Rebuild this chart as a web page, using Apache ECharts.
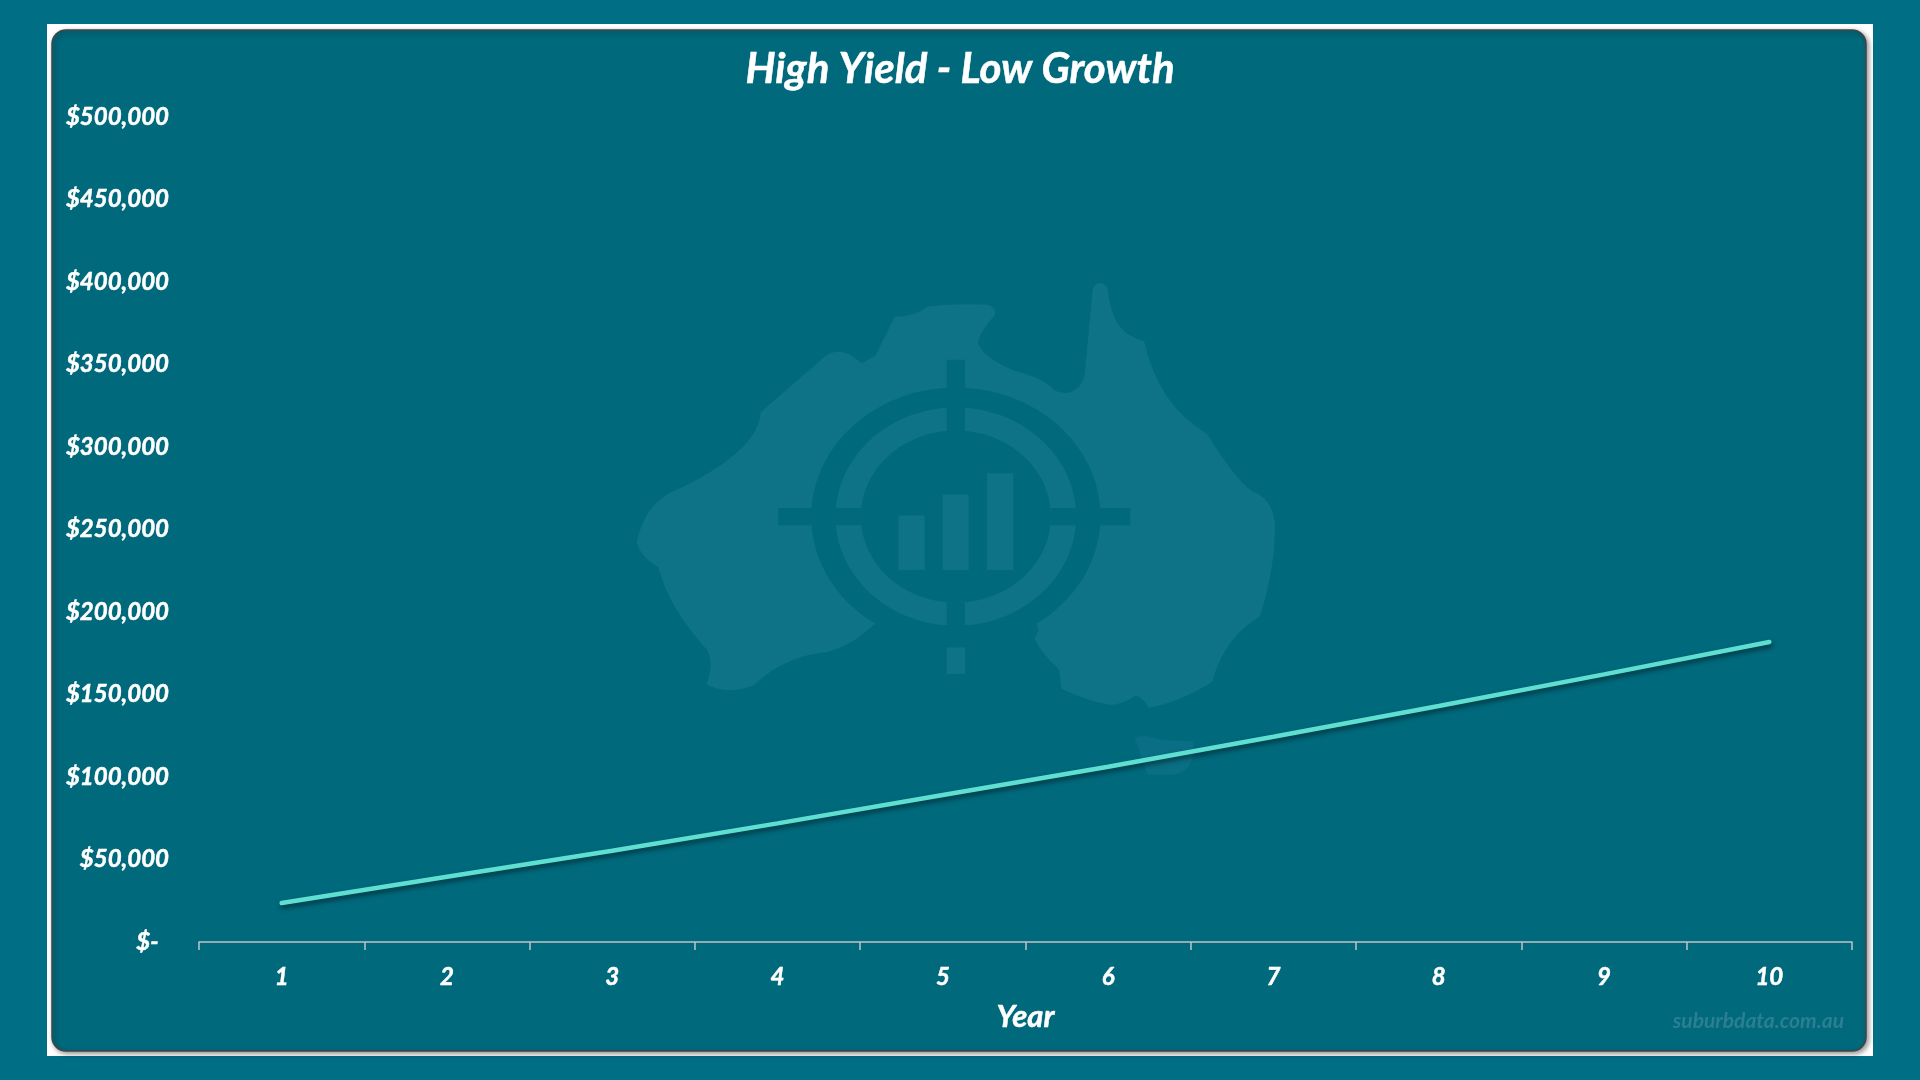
<!DOCTYPE html>
<html><head><meta charset="utf-8">
<style>html,body{margin:0;padding:0;background:#006e84}#c{width:1920px;height:1080px}</style>
<script src="https://cdn.jsdelivr.net/npm/echarts@6/dist/echarts.min.js"></script>
</head><body><div id="c"></div>
<script>
const years = ['1','2','3','4','5','6','7','8','9','10'];
const values = [23600,39600,55300,71900,89100,106200,124400,143000,162200,181800];
const titleText = 'High Yield - Low Growth';
const axisTitle = 'Year';
const watermark = 'suburbdata.com.au';

const OUTER='#006e84', PANEL='#00697c', LOGO='#0f7388', TAS='#0a6f84';
echarts.graphic.registerShape('australia', echarts.graphic.extendPath(
 'M350 442L490 280Q515 255 545 275L570 300L600 278L642 165Q685 165 715 135Q780 125 845 130Q865 140 860 160Q830 205 823 238Q830 280 900 320Q970 345 990 378Q1020 400 1045 365Q1055 345 1056 330L1073 85Q1085 52 1105 80Q1110 150 1130 190Q1150 225 1185 235Q1215 420 1322 505Q1380 630 1420 672Q1465 690 1470 770Q1470 900 1437 1035Q1360 1095 1333 1225Q1260 1285 1195 1300Q1180 1265 1165 1265Q1140 1290 1110 1292Q1060 1280 1005 1245L1000 1190Q960 1140 947 1100L955 1075L952 1058L597 1058Q550 1120 495 1138Q400 1150 335 1235Q280 1265 232 1232Q250 1170 232 1130Q150 1010 127 892Q90 865 80 820Q95 720 150 678Q345 560 350 442Z', {}));
echarts.graphic.registerShape('tasmania', echarts.graphic.extendPath(
 'M1165 1387L1185 1380Q1220 1398 1293 1397L1290 1450Q1280 1490 1245 1495L1192 1495Z', {}));

const r=(x0,y0,x1,y1,f)=>({type:'rect',z:-8,shape:{x:x0,y:y0,width:x1-x0,height:y1-y0},style:{fill:f}});
const e=(rx,ry,f)=>({type:'ellipse',z:-8,shape:{cx:775,cy:745,rx,ry},style:{fill:f}});
const logo={type:'group',x:600,y:260,scaleX:1/2.178,scaleY:540/1568,z:-8,children:[
 {type:'australia',z:-8,style:{fill:LOGO}},
 {type:'tasmania',z:-8,style:{fill:TAS}},
 e(315,375,PANEL),e(262,317,LOGO),e(207,250,PANEL),
 r(755,290,795,497,PANEL),r(755,995,795,1090,PANEL),
 r(388,720,568,770,PANEL),r(982,720,1155,770,PANEL),
 r(755,1125,795,1202,LOGO),
 r(650,742,707,900,LOGO),r(746,681,803,900,LOGO),r(843,619,900,900,LOGO)
]};
const FONT='Lato';
const heavy={color:'#fff',fontFamily:FONT,fontStyle:'italic',fontWeight:'bold',textBorderColor:'#fff',textBorderWidth:0.5};
const chart=echarts.init(document.getElementById('c'));
chart.setOption({
 backgroundColor:OUTER,animation:false,
 title:{text:titleText,left:'center',top:43,textStyle:{...heavy,fontSize:42}},
 grid:{left:199,right:68,top:117,bottom:138},
 xAxis:{type:'category',data:years,boundaryGap:true,
  axisLine:{lineStyle:{color:'#bfc4c8',width:1.5}},
  axisTick:{show:true,length:8,alignWithLabel:false,lineStyle:{color:'#bfc4c8',width:1.5}},
  axisLabel:{...heavy,fontSize:24,margin:23},
  name:axisTitle,nameLocation:'middle',nameGap:59,
  nameTextStyle:{...heavy,fontSize:31}},
 yAxis:{type:'value',min:0,max:500000,interval:50000,
  axisLine:{show:false},axisTick:{show:false},splitLine:{show:false},
  axisLabel:{...heavy,fontSize:24,margin:30,
   formatter:v=>v===0?'$-\u00a0\u00a0':'$'+v.toLocaleString('en-US')}},
 series:[{type:'line',data:values,symbol:'none',smooth:false,
  lineStyle:{color:'#5fdfd2',width:4.5,cap:'round',shadowColor:'rgba(0,0,0,0.5)',shadowBlur:5,shadowOffsetY:3,shadowOffsetX:1}}],
 graphic:{elements:[
  {type:'rect',z:-10,shape:{x:47,y:24,width:1826,height:1032},style:{fill:'#fff'}},
  {type:'rect',z:-9,shape:{x:52,y:30,width:1814,height:1021,r:14},
   style:{fill:PANEL,stroke:'#444',lineWidth:1.5,shadowColor:'rgba(0,0,0,0.4)',shadowBlur:5,shadowOffsetX:2,shadowOffsetY:2}},
  logo,
  {type:'text',z:-7,x:1844,y:1021,style:{text:watermark,align:'right',verticalAlign:'middle',fill:'#2b7f92',fontFamily:FONT,fontStyle:'italic',fontWeight:'bold',fontSize:21}}
 ]}
});
</script></body></html>
